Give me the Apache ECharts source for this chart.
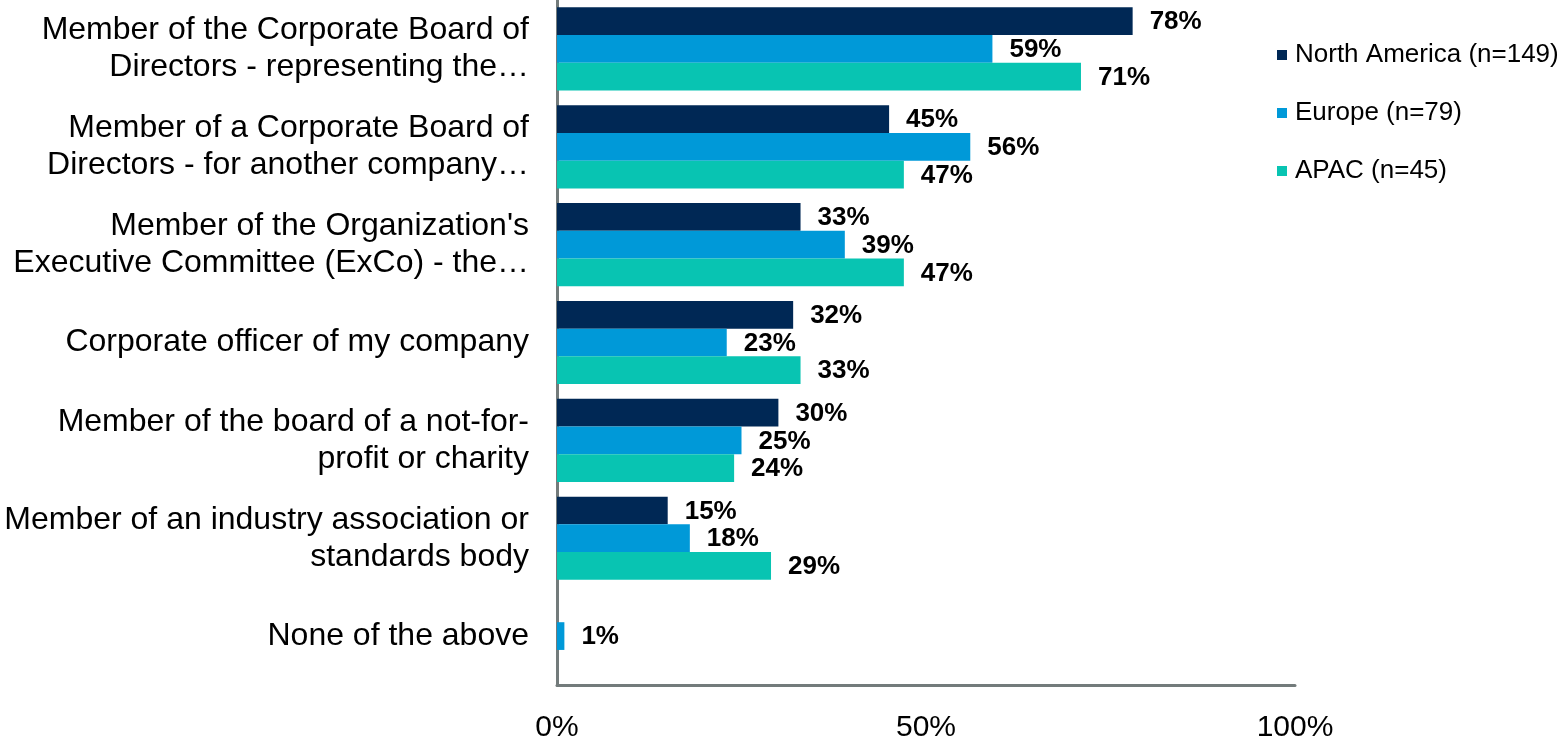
<!DOCTYPE html>
<html><head><meta charset="utf-8">
<script src="https://cdn.jsdelivr.net/npm/echarts@6/dist/echarts.min.js"></script>
<style>html,body{margin:0;padding:0;background:#fff}#c{width:1564px;height:743px}</style>
</head><body><div id="c"></div>
<script>
const categories = [
  "Member of the Corporate Board of\nDirectors - representing the…",
  "Member of a Corporate Board of\nDirectors - for another company…",
  "Member of the Organization's\nExecutive Committee (ExCo) - the…",
  "Corporate officer of my company",
  "Member of the board of a not-for-\nprofit or charity",
  "Member of an industry association or\nstandards body",
  "None of the above"
];
const northAmerica = [78, 45, 33, 32, 30, 15, null];
const europe = [59, 56, 39, 23, 25, 18, 1];
const apac = [71, 47, 47, 33, 24, 29, null];
const seriesNames = ["North America (n=149)", "Europe (n=79)", "APAC (n=45)"];
const colors = ["#002855", "#0099d8", "#08c4b2"];
const xTicks = [0, 50, 100];

const chart = echarts.init(document.getElementById('c'), null, {renderer: 'canvas'});
const FONT = "'Liberation Sans', Arial, sans-serif";
const label = {show: true, position: 'right', distance: 16, offset: [1, 1], formatter: p => p.value == null ? '' : p.value + '%',
  color: '#000', fontWeight: 'bold', fontSize: 26, fontFamily: FONT};
const mk = (name, data, i) => ({
  name, type: 'bar', data, barGap: '0%', barCategoryGap: '15%',
  itemStyle: {color: colors[i]}, label, emphasis: {disabled: true}
});
chart.setOption({
  animation: false,
  color: colors,
  textStyle: {fontFamily: FONT},
  grid: {left: 557, right: 269, top: 0, bottom: 57, containLabel: false},
  legend: {
    orient: 'vertical', left: 1277, top: 42, itemWidth: 10, itemHeight: 10, itemGap: 32,
    icon: 'rect', textStyle: {fontSize: 26, color: '#000', fontFamily: FONT, padding: [0, 0, 0, 3]}, padding: 0,
    data: seriesNames
  },
  xAxis: {
    type: 'value', min: 0, max: 100, interval: 50,
    axisLine: {show: true, lineStyle: {color: '#737b7b', width: 3}},
    axisTick: {show: false}, splitLine: {show: false},
    axisLabel: {formatter: v => xTicks.includes(v) ? v + '%' : '', fontSize: 30, color: '#000', margin: 28, fontFamily: FONT}
  },
  yAxis: {
    type: 'category', inverse: true, data: categories,
    axisLine: {show: true, lineStyle: {color: '#737b7b', width: 3}},
    axisTick: {show: false},
    axisLabel: {fontSize: 32, color: '#000', margin: 28, lineHeight: 37, align: 'right', fontFamily: FONT, padding: [4, 0, 0, 0]}
  },
  series: [mk(seriesNames[0], northAmerica, 0), mk(seriesNames[1], europe, 1), mk(seriesNames[2], apac, 2)]
});
</script></body></html>
